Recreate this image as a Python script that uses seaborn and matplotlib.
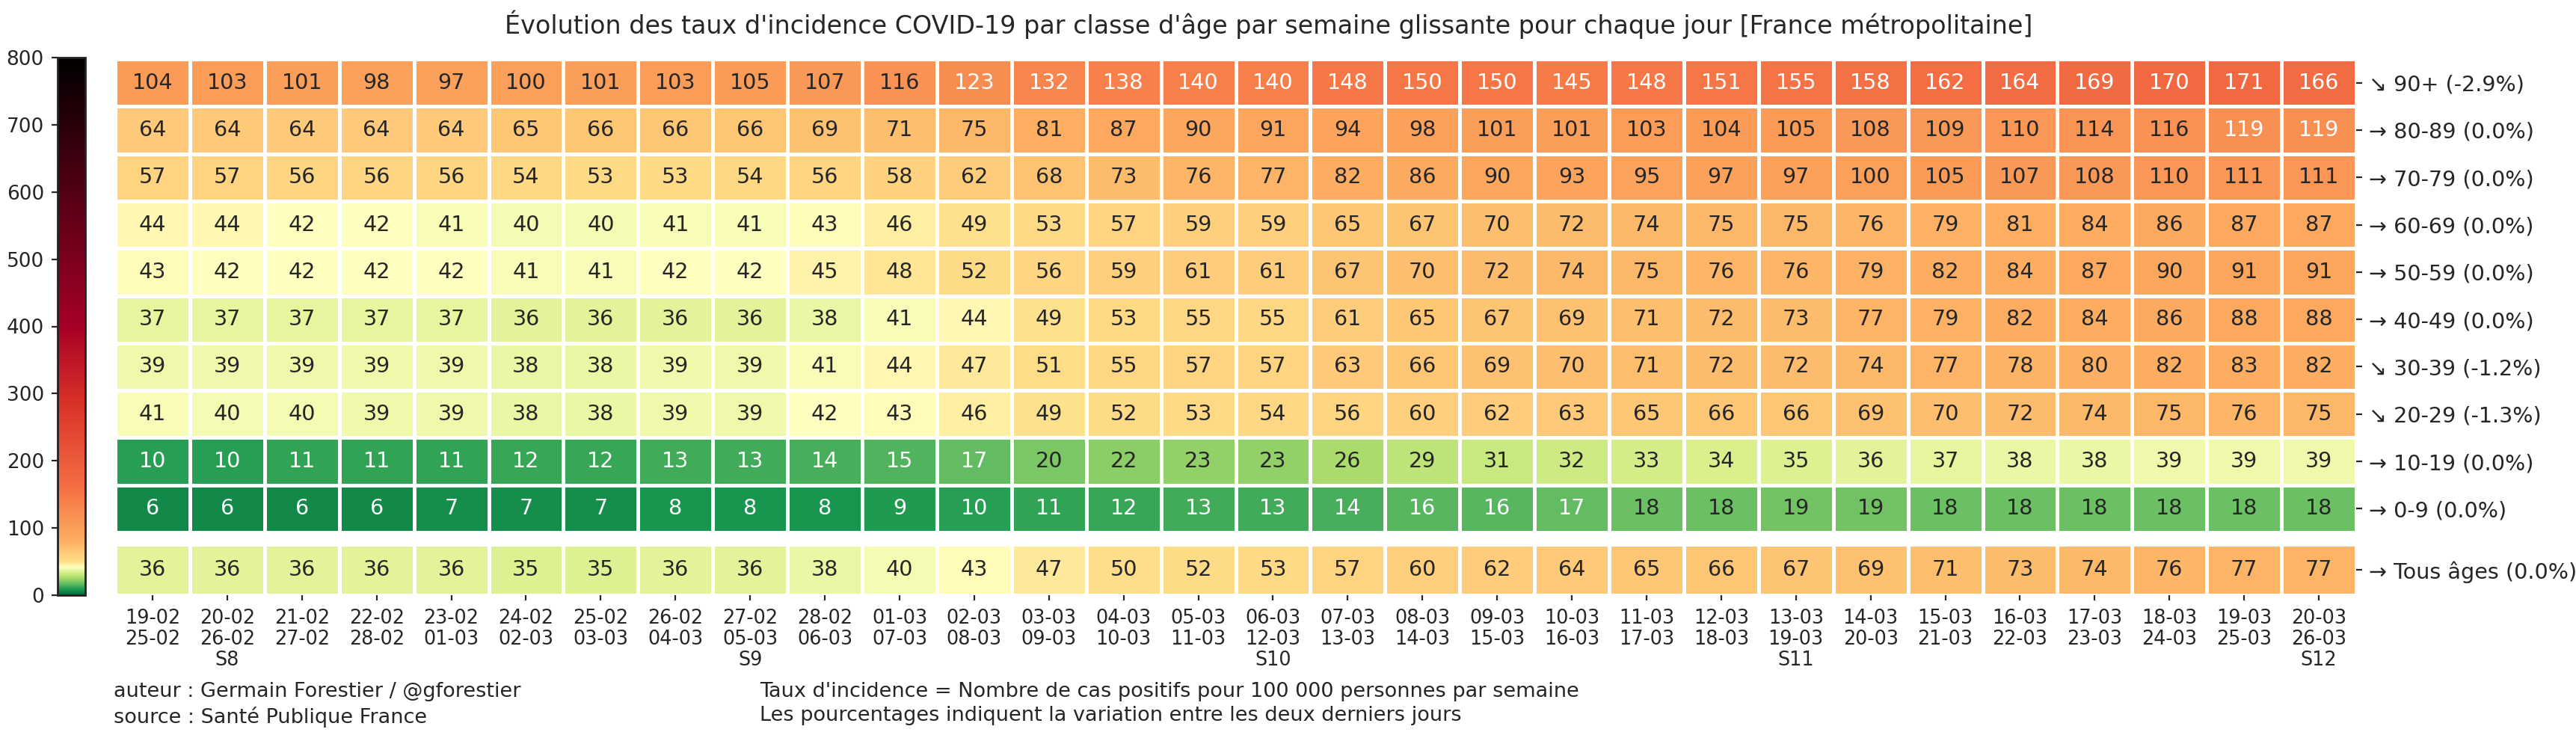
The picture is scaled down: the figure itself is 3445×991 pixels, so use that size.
import numpy as np
import pandas as pd
import matplotlib
matplotlib.use('Agg')
import matplotlib.pyplot as plt
from matplotlib.colors import LinearSegmentedColormap
import seaborn as sns

# Data: weekly incidence rate per age class (rolling 7-day window)
start_days = ['19-02', '20-02', '21-02', '22-02', '23-02', '24-02', '25-02', '26-02', '27-02', '28-02',
              '01-03', '02-03', '03-03', '04-03', '05-03', '06-03', '07-03', '08-03', '09-03', '10-03',
              '11-03', '12-03', '13-03', '14-03', '15-03', '16-03', '17-03', '18-03', '19-03', '20-03']
end_days = ['25-02', '26-02', '27-02', '28-02', '01-03', '02-03', '03-03', '04-03', '05-03', '06-03',
            '07-03', '08-03', '09-03', '10-03', '11-03', '12-03', '13-03', '14-03', '15-03', '16-03',
            '17-03', '18-03', '19-03', '20-03', '21-03', '22-03', '23-03', '24-03', '25-03', '26-03']
week_labels = {1: 'S8', 8: 'S9', 15: 'S10', 22: 'S11', 29: 'S12'}

age_classes = ['90+', '80-89', '70-79', '60-69', '50-59', '40-49', '30-39', '20-29', '10-19', '0-9']
trend_arrows = ['↘', '→', '→', '→', '→', '→', '↘', '↘', '→', '→']
variations = [-2.9, 0.0, 0.0, 0.0, 0.0, 0.0, -1.2, -1.3, 0.0, 0.0]

rate_90 = [104, 103, 101, 98, 97, 100, 101, 103, 105, 107, 116, 123, 132, 138, 140,
           140, 148, 150, 150, 145, 148, 151, 155, 158, 162, 164, 169, 170, 171, 166]
rate_80 = [64, 64, 64, 64, 64, 65, 66, 66, 66, 69, 71, 75, 81, 87, 90,
           91, 94, 98, 101, 101, 103, 104, 105, 108, 109, 110, 114, 116, 119, 119]
rate_70 = [57, 57, 56, 56, 56, 54, 53, 53, 54, 56, 58, 62, 68, 73, 76,
           77, 82, 86, 90, 93, 95, 97, 97, 100, 105, 107, 108, 110, 111, 111]
rate_60 = [44, 44, 42, 42, 41, 40, 40, 41, 41, 43, 46, 49, 53, 57, 59,
           59, 65, 67, 70, 72, 74, 75, 75, 76, 79, 81, 84, 86, 87, 87]
rate_50 = [43, 42, 42, 42, 42, 41, 41, 42, 42, 45, 48, 52, 56, 59, 61,
           61, 67, 70, 72, 74, 75, 76, 76, 79, 82, 84, 87, 90, 91, 91]
rate_40 = [37, 37, 37, 37, 37, 36, 36, 36, 36, 38, 41, 44, 49, 53, 55,
           55, 61, 65, 67, 69, 71, 72, 73, 77, 79, 82, 84, 86, 88, 88]
rate_30 = [39, 39, 39, 39, 39, 38, 38, 39, 39, 41, 44, 47, 51, 55, 57,
           57, 63, 66, 69, 70, 71, 72, 72, 74, 77, 78, 80, 82, 83, 82]
rate_20 = [41, 40, 40, 39, 39, 38, 38, 39, 39, 42, 43, 46, 49, 52, 53,
           54, 56, 60, 62, 63, 65, 66, 66, 69, 70, 72, 74, 75, 76, 75]
rate_10 = [10, 10, 11, 11, 11, 12, 12, 13, 13, 14, 15, 17, 20, 22, 23,
           23, 26, 29, 31, 32, 33, 34, 35, 36, 37, 38, 38, 39, 39, 39]
rate_0 = [6, 6, 6, 6, 7, 7, 7, 8, 8, 8, 9, 10, 11, 12, 13,
          13, 14, 16, 16, 17, 18, 18, 19, 19, 18, 18, 18, 18, 18, 18]
rate_all = [36, 36, 36, 36, 36, 35, 35, 36, 36, 38, 40, 43, 47, 50, 52,
            53, 57, 60, 62, 64, 65, 66, 67, 69, 71, 73, 74, 76, 77, 77]
variation_all = 0.0

# Colormap: green -> yellow -> orange -> red -> black over 0..800
vmax = 800
cmap_nodes = [(0, '#006837'), (8.4, '#1a9850'), (17.2, '#66bd63'), (25.2, '#a6d96a'),
              (33.6, '#d9ef8b'), (42, '#ffffbf'), (49, '#fee08b'), (81, '#fdae61'),
              (162, '#f46d43'), (290, '#d73027'), (400, '#a50026'), (800, '#000000')]
cmap = LinearSegmentedColormap.from_list('incidence', [(v / vmax, c) for v, c in cmap_nodes], N=2048)

x_labels = []
for i, (s, e) in enumerate(zip(start_days, end_days)):
    lab = s + '\n' + e
    if i in week_labels:
        lab += '\n' + week_labels[i]
    x_labels.append(lab)

df_ages = pd.DataFrame([rate_90, rate_80, rate_70, rate_60, rate_50, rate_40, rate_30, rate_20, rate_10, rate_0],
                       index=age_classes, columns=x_labels)
df_all = pd.DataFrame([rate_all], index=['Tous âges'], columns=x_labels)

row_labels = ['{} {} ({:.1f}%)'.format(a, n, v) for a, n, v in zip(trend_arrows, age_classes, variations)]
all_label = ['→ Tous âges ({:.1f}%)'.format(variation_all)]

sns.set_style('white')
plt.rcParams['font.family'] = ['DejaVu Sans']

W, H = 3445, 991
fig = plt.figure(figsize=(W / 200, H / 200), dpi=200)

ax_main = fig.add_axes([154 / W, 1 - 712 / H, (3151 - 154) / W, (712 - 79) / H])
ax_all = fig.add_axes([154 / W, 1 - 796 / H, (3151 - 154) / W, (796 - 728) / H])
cax = fig.add_axes([77 / W, 1 - 796 / H, 37 / W, (796 - 77) / H])

common = dict(cmap=cmap, vmin=0, vmax=vmax, annot=True, fmt='d', linewidths=1.1, linecolor='white',
              annot_kws={'fontsize': 10.3})
sns.heatmap(df_ages, ax=ax_main, cbar_ax=cax, **common)
sns.heatmap(df_all, ax=ax_all, cbar=False, **common)

# Row labels on the right
for ax, labels in [(ax_main, row_labels), (ax_all, all_label)]:
    ax.yaxis.tick_right()
    ax.set_yticklabels(labels, rotation=0, fontsize=10.3)
    ax.tick_params(axis='y', length=3, width=0.8, pad=3, left=False, right=True)
    ax.set_ylabel('')
    ax.set_xlabel('')

ax_main.set_xticks([])
ax_all.set_xticklabels(x_labels, rotation=0, fontsize=9.2, va='top', linespacing=1.1)
ax_all.tick_params(axis='x', length=2.5, width=0.8, pad=4, bottom=True)

# Colorbar ticks on the left
cax.yaxis.set_ticks_position('left')
cax.set_yticks(range(0, 801, 100))
cax.tick_params(labelsize=9.5, length=3, width=0.8)
cb = ax_main.collections[0].colorbar
cb.outline.set_visible(True)
cb.outline.set_edgecolor('#222222')
cb.outline.set_linewidth(1.0)

fig.text(0.4926, 1 - 33 / H, "Évolution des taux d'incidence COVID-19 par classe d'âge par semaine glissante "
         "pour chaque jour [France métropolitaine]", ha='center', va='center', fontsize=12)
fig.text(152 / W, 1 - 912 / H, 'auteur : Germain Forestier / @gforestier\nsource : Santé Publique France',
         ha='left', va='top', fontsize=9.75, linespacing=1.3)
fig.text(1016 / W, 1 - 912 / H, "Taux d'incidence = Nombre de cas positifs pour 100 000 personnes par semaine\n"
         "Les pourcentages indiquent la variation entre les deux derniers jours",
         ha='left', va='top', fontsize=9.75, linespacing=1.3)

fig.savefig('out.png', dpi=200)
